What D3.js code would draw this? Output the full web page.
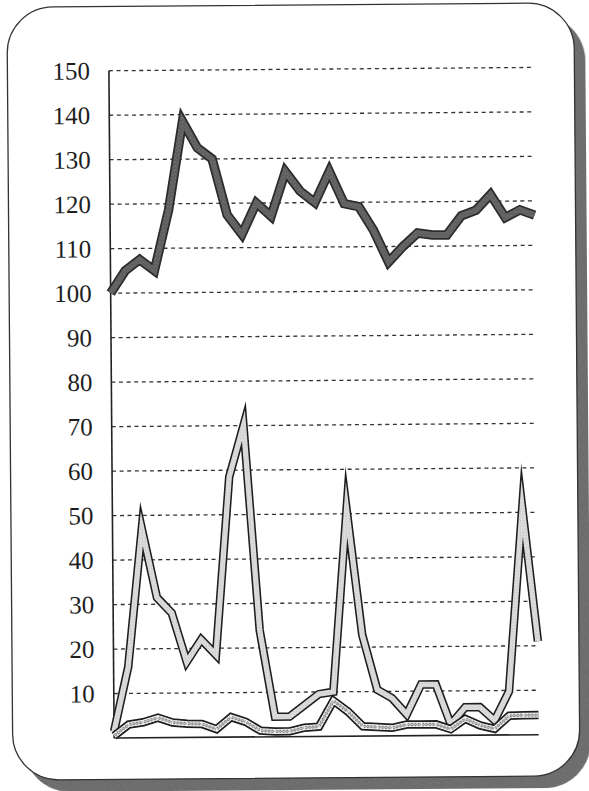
<!DOCTYPE html>
<html>
<head>
<meta charset="utf-8">
<script src="https://cdn.jsdelivr.net/npm/d3@7"></script>
<style>
  body { margin: 0; background: #fff; }
</style>
</head>
<body>
<div id="chart"></div>
<script>
// values, one per day
const days = d3.range(1, 31);

const topSeries = [100, 105, 107.5, 105, 118.6, 138.5, 132.5, 130, 117.4, 113,
                   120, 117, 127, 122.6, 120, 127, 119.7, 119, 113.6, 106.5,
                   110, 113, 112.5, 112.5, 116.8, 118, 121.5, 116.3, 118, 116.8];

const midSeries = [1.5, 16, 47, 31.5, 28, 17, 22, 18.5, 58.5, 70,
                   24, 4.5, 4.5, 7, 9.5, 10, 51, 22.8, 10.4, 8.5,
                   4.8, 11.5, 11.5, 2.5, 6.3, 6.3, 3.3, 9.8, 51, 21];

const lowSeries = [0.5, 3, 3.5, 4.5, 3.4, 3.1, 3, 1.8, 4.5, 3.4,
                   1.4, 1.2, 1.2, 2, 2.2, 8, 5.5, 2.2, 2, 1.8,
                   2.5, 2.5, 2.5, 1.4, 3.7, 2.2, 1.4, 4.3, 4.4, 4.4];

const yTicks = [10, 20, 30, 40, 50, 60, 70, 80, 90, 100, 110, 120, 130, 140, 150];

let width = 589;
let height = 791;

let margin = {
  top: 69.3,
  bottom: 54.4,
  left: 111.5,
  right: 53
};

let svg = d3.select('#chart')
  .append('svg')
  .attr('width', width)
  .attr('height', height);

const defs = svg.append('defs');

// dark speckled fill for the top line
const pDark = defs.append('pattern')
  .attr('id', 'speckDark')
  .attr('patternUnits', 'userSpaceOnUse')
  .attr('width', 4).attr('height', 4);
pDark.append('rect').attr('width', 4).attr('height', 4).attr('fill', '#5c5c5c');
pDark.append('circle').attr('cx', 1).attr('cy', 1).attr('r', 0.6).attr('fill', '#a0a0a0');
pDark.append('circle').attr('cx', 3).attr('cy', 2.8).attr('r', 0.5).attr('fill', '#909090');

// light stippled fill for the middle line
const pLight = defs.append('pattern')
  .attr('id', 'speckLight')
  .attr('patternUnits', 'userSpaceOnUse')
  .attr('width', 3).attr('height', 3);
pLight.append('rect').attr('width', 3).attr('height', 3).attr('fill', '#e4e4e4');
pLight.append('circle').attr('cx', 0.8).attr('cy', 0.8).attr('r', 0.5).attr('fill', '#888');
pLight.append('circle').attr('cx', 2.3).attr('cy', 2.2).attr('r', 0.45).attr('fill', '#999');

// little "ooo" rings for the bottom line
const pRing = defs.append('pattern')
  .attr('id', 'ooo')
  .attr('patternUnits', 'userSpaceOnUse')
  .attr('width', 3.4).attr('height', 4.4)
  .attr('y', -2.2);
pRing.append('rect').attr('width', 3.4).attr('height', 4.4).attr('fill', '#f3f3f3');
pRing.append('ellipse').attr('cx', 1.7).attr('cy', 2.2).attr('rx', 1.05).attr('ry', 1.3)
  .attr('fill', 'none').attr('stroke', '#333').attr('stroke-width', 0.65);

// grainy look for the shadow
const grain = defs.append('filter').attr('id', 'grain');
grain.append('feTurbulence')
  .attr('type', 'fractalNoise').attr('baseFrequency', 0.8).attr('numOctaves', 2).attr('result', 'noise');
grain.append('feColorMatrix')
  .attr('in', 'noise').attr('type', 'matrix')
  .attr('values', '0 0 0 0 0.25  0 0 0 0 0.25  0 0 0 0 0.25  0 0 0 0.55 0')
  .attr('result', 'dots');
grain.append('feComposite').attr('in', 'dots').attr('in2', 'SourceGraphic').attr('operator', 'in').attr('result', 'clipped');
const merge = grain.append('feMerge');
merge.append('feMergeNode').attr('in', 'SourceGraphic');
merge.append('feMergeNode').attr('in', 'clipped');

// the scan is a little tilted
const g = svg.append('g').attr('transform', 'rotate(-0.45, 295, 400)');

// card shadow + card
g.append('rect')
  .attr('x', 21).attr('y', 17)
  .attr('width', 567).attr('height', 773)
  .attr('rx', 46).attr('ry', 46)
  .attr('fill', '#626262')
  .attr('filter', 'url(#grain)');
g.append('rect')
  .attr('x', 10).attr('y', 5)
  .attr('width', 567).attr('height', 773)
  .attr('rx', 46).attr('ry', 46)
  .attr('fill', '#fff')
  .attr('stroke', '#333')
  .attr('stroke-width', 1.3);

let xScale = d3.scalePoint()
  .domain(days)
  .range([margin.left, width - margin.right]);

let yScale = d3.scaleLinear()
  .domain([0, 150])
  .range([height - margin.bottom, margin.top]);

// dashed gridlines
g.append('g')
  .selectAll('line')
  .data(yTicks)
  .enter()
  .append('line')
  .attr('x1', margin.left)
  .attr('x2', width - margin.right)
  .attr('y1', d => yScale(d))
  .attr('y2', d => yScale(d))
  .attr('stroke', '#333')
  .attr('stroke-width', 1.3)
  .attr('stroke-dasharray', '4,3.6');

// y axis labels, serif like the original
const yAxis = g.append('g')
  .attr('transform', `translate(${margin.left}, 0)`)
  .call(d3.axisLeft(yScale).tickValues(yTicks).tickSize(0).tickPadding(19));
yAxis.select('.domain').remove();
yAxis.selectAll('text')
  .attr('font-family', '"Liberation Serif", "DejaVu Serif", serif')
  .attr('font-size', 25)
  .attr('fill', '#1e1e1e');

// axis lines
g.append('line')
  .attr('x1', margin.left).attr('x2', margin.left)
  .attr('y1', yScale(150)).attr('y2', yScale(0))
  .attr('stroke', '#222').attr('stroke-width', 1.6);
g.append('line')
  .attr('x1', margin.left).attr('x2', width - margin.right)
  .attr('y1', yScale(0)).attr('y2', yScale(0))
  .attr('stroke', '#222').attr('stroke-width', 1.6);

const line = d3.line()
  .x((d, i) => xScale(days[i]))
  .y(d => yScale(d));

function drawBand(values, outerW, innerW, outerColor, innerFill) {
  g.append('path')
    .datum(values)
    .attr('d', line)
    .attr('fill', 'none')
    .attr('stroke', outerColor)
    .attr('stroke-width', outerW)
    .attr('stroke-linejoin', 'miter')
    .attr('stroke-miterlimit', 30);
  g.append('path')
    .datum(values)
    .attr('d', line)
    .attr('fill', 'none')
    .attr('stroke', innerFill)
    .attr('stroke-width', innerW)
    .attr('stroke-linejoin', 'miter')
    .attr('stroke-miterlimit', 30);
}

drawBand(topSeries, 9.5, 6, '#2c2c2c', 'url(#speckDark)');
drawBand(midSeries, 8.5, 5.4, '#1e1e1e', 'url(#speckLight)');
drawBand(lowSeries, 8.5, 5, '#1e1e1e', '#f3f3f3');

// rings follow each segment of the bottom line
for (let i = 0; i < lowSeries.length - 1; i++) {
  const x1 = xScale(days[i]), y1 = yScale(lowSeries[i]);
  const x2 = xScale(days[i + 1]), y2 = yScale(lowSeries[i + 1]);
  const len = Math.hypot(x2 - x1, y2 - y1);
  const ang = Math.atan2(y2 - y1, x2 - x1) * 180 / Math.PI;
  g.append('g')
    .attr('transform', `translate(${x1}, ${y1}) rotate(${ang})`)
    .append('rect')
    .attr('x', 0.5)
    .attr('y', -2.2)
    .attr('width', len - 1)
    .attr('height', 4.4)
    .attr('fill', 'url(#ooo)');
}
</script>
</body>
</html>
